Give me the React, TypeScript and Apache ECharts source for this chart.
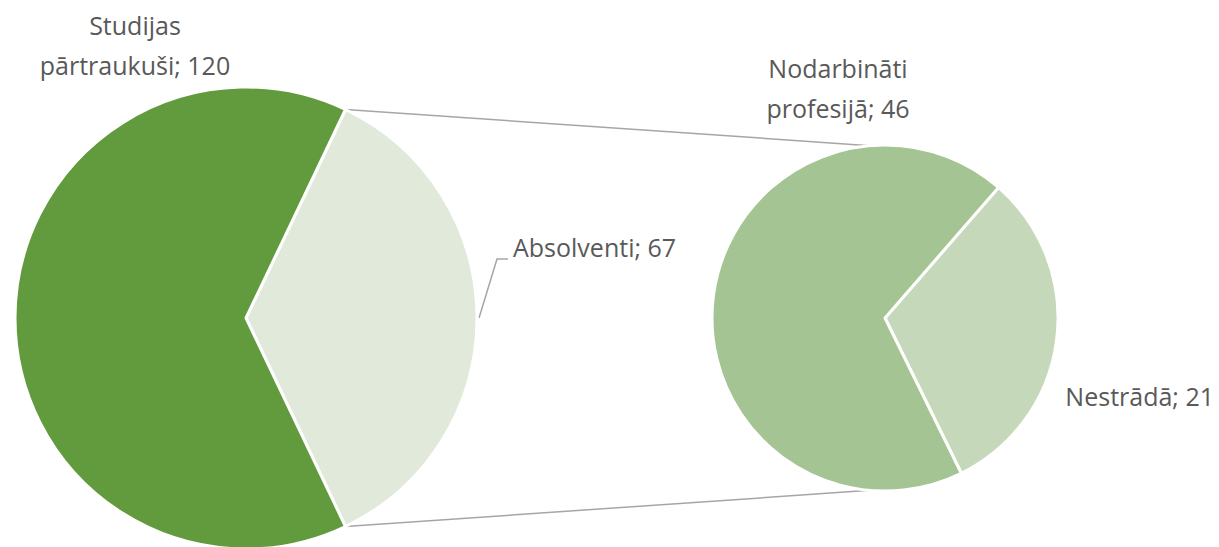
import React, { useEffect, useRef } from "react";
import * as echarts from "echarts";

const mainNames = ["Absolventi", "Studijas\npārtraukuši"];
const mainValues = [67, 120];
const mainColors = ["#E1EADA", "#629B3E"];

const subNames = ["Nestrādā", "Nodarbināti\nprofesijā"];
const subValues = [21, 46];
const subColors = ["#C5D9BA", "#A4C493"];

const W = 1219;
const H = 547;
const C1 = [246, 318];
const R1 = 231;
const C2 = [885, 318];
const R2 = 173;
const FONT = "Open Sans";
const TXT = "#595959";
const LINE = "#A6A6A6";

export default function App() {
  const ref = useRef<HTMLDivElement>(null);
  useEffect(() => {
    if (!ref.current) return;
    const chart = echarts.init(ref.current, null, { renderer: "svg" });

    const mainTotal = mainValues.reduce((a, b) => a + b, 0);
    const half1 = (mainValues[0] / mainTotal) * 180;
    const subStart = 49;

    const rad = (d: number) => (d * Math.PI) / 180;
    const pt = (c: number[], r: number, a: number) => [c[0] + r * Math.cos(rad(a)), c[1] - r * Math.sin(rad(a))];
    const t1 = pt(C1, R1, half1);
    const b1 = pt(C1, R1, -half1);
    const t2 = pt(C2, R2, 95);
    const b2 = pt(C2, R2, -95);

    const textStyle = { fill: TXT, font: `25px "${FONT}"`, lineHeight: 40 };

    chart.setOption({
      animation: false,
      series: [
        {
          type: "pie",
          center: C1,
          radius: R1,
          startAngle: half1,
          clockwise: true,
          label: { show: false },
          labelLine: { show: false },
          itemStyle: { borderColor: "#fff", borderWidth: 3 },
          emphasis: { disabled: true },
          data: mainValues.map((v, i) => ({ name: mainNames[i], value: v, itemStyle: { color: mainColors[i] } })),
        },
        {
          type: "pie",
          center: C2,
          radius: R2,
          startAngle: subStart,
          clockwise: true,
          label: { show: false },
          labelLine: { show: false },
          itemStyle: { borderColor: "#fff", borderWidth: 3 },
          emphasis: { disabled: true },
          data: subValues.map((v, i) => ({ name: subNames[i], value: v, itemStyle: { color: subColors[i] } })),
        },
      ],
      graphic: [
        { type: "line", shape: { x1: t1[0], y1: t1[1], x2: t2[0], y2: t2[1] }, style: { stroke: LINE, lineWidth: 1.5 }, z: 1 },
        { type: "line", shape: { x1: b1[0], y1: b1[1], x2: b2[0], y2: b2[1] }, style: { stroke: LINE, lineWidth: 1.5 }, z: 1 },
        { type: "polyline", shape: { points: [[479, 318], [497, 259], [508, 259]] }, style: { stroke: LINE, lineWidth: 1.5, fill: null } },
        {
          type: "text", x: 135, y: 5,
          style: { ...textStyle, text: `${mainNames[1]}; ${mainValues[1]}`, align: "center", verticalAlign: "top" },
        },
        {
          type: "text", x: 513, y: 247,
          style: { ...textStyle, text: `${mainNames[0]}; ${mainValues[0]}`, align: "left", verticalAlign: "middle" },
        },
        {
          type: "text", x: 838, y: 48,
          style: { ...textStyle, text: `${subNames[1]}; ${subValues[1]}`, align: "center", verticalAlign: "top" },
        },
        {
          type: "text", x: 1214, y: 396,
          style: { ...textStyle, text: `${subNames[0]}; ${subValues[0]}`, align: "right", verticalAlign: "middle" },
        },
      ],
    });
    return () => chart.dispose();
  }, []);
  return <div ref={ref} style={{ position: "fixed", left: 0, top: 0, width: W, height: H, background: "#fff" }} />;
}
